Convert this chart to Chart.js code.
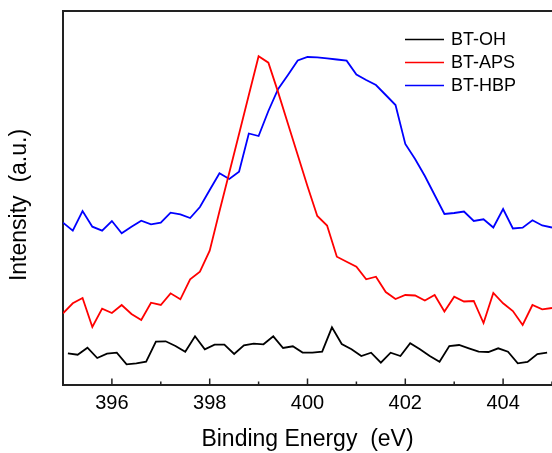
<!DOCTYPE html>
<html lang="en">
<head>
  <meta charset="UTF-8">
  <title>N1s XPS</title>
  <script src="https://cdn.jsdelivr.net/npm/chart.js"></script>
  <style>
    html, body {
      margin: 0;
      padding: 0;
      background: #ffffff;
      overflow: hidden;
    }
    canvas {
      display: block;
    }
  </style>
</head>
<body>
  <canvas id="xpsChart" width="552" height="453"></canvas>

  <script>
    // binding energy (eV) for BT-APS and BT-HBP, 0.2 eV steps
    const energy = [
      395.0, 395.2, 395.4, 395.6, 395.8, 396.0, 396.2, 396.4, 396.6, 396.8,
      397.0, 397.2, 397.4, 397.6, 397.8, 398.0, 398.2, 398.4, 398.6, 398.8,
      399.0, 399.2, 399.4, 399.6, 399.8, 400.0, 400.2, 400.4, 400.6, 400.8,
      401.0, 401.2, 401.4, 401.6, 401.8, 402.0, 402.2, 402.4, 402.6, 402.8,
      403.0, 403.2, 403.4, 403.6, 403.8, 404.0, 404.2, 404.4, 404.6, 404.8,
      405.0
    ];
    // BT-OH was sampled on the odd tenths
    const energyOH = [
      395.1, 395.3, 395.5, 395.7, 395.9, 396.1, 396.3, 396.5, 396.7, 396.9,
      397.1, 397.3, 397.5, 397.7, 397.9, 398.1, 398.3, 398.5, 398.7, 398.9,
      399.1, 399.3, 399.5, 399.7, 399.9, 400.1, 400.3, 400.5, 400.7, 400.9,
      401.1, 401.3, 401.5, 401.7, 401.9, 402.1, 402.3, 402.5, 402.7, 402.9,
      403.1, 403.3, 403.5, 403.7, 403.9, 404.1, 404.3, 404.5, 404.7, 404.9
    ];

    // intensities, arbitrary units (offset curves)
    const btOH = [
      31.6, 30.3, 37.3, 27.0, 31.3, 32.3, 20.7, 21.7, 23.3, 43.3,
      43.7, 39.0, 33.3, 48.7, 35.7, 40.3, 40.3, 31.0, 39.7, 41.3,
      40.7, 48.7, 37.0, 38.7, 32.5, 32.3, 33.3, 57.7, 41.0, 35.7,
      29.0, 32.3, 22.3, 32.3, 29.0, 41.7, 35.7, 29.0, 23.3, 39.0,
      40.0, 36.7, 33.3, 33.0, 36.7, 33.3, 21.7, 23.0, 31.0, 32.3
    ];
    const btAPS = [
      71.7, 81.7, 87.0, 58.0, 76.3, 72.0, 80.0, 71.0, 65.0, 82.3,
      80.0, 91.7, 85.7, 105.7, 113.3, 134.3, 173.7, 212.3, 251.0, 290.0,
      328.7, 322.3, 292.6, 261.3, 230.0, 198.7, 169.0, 159.5, 128.3, 123.3,
      118.3, 105.7, 108.3, 93.0, 86.0, 90.0, 89.5, 84.5, 90.0, 73.5,
      88.3, 83.5, 84.0, 62.0, 92.0, 81.7, 74.0, 60.0, 80.0, 75.7,
      77.0
    ];
    const btHBP = [
      162.3, 154.3, 174.0, 158.3, 154.3, 164.0, 151.7, 158.3, 164.3, 160.7,
      162.3, 172.3, 170.7, 167.0, 178.0, 195.0, 211.7, 206.0, 213.3, 251.5,
      249.0, 274.0, 296.0, 310.0, 324.5, 328.0, 327.7, 326.7, 325.5, 324.3,
      310.5, 305.0, 300.0, 290.0, 280.0, 241.0, 226.0, 209.0, 190.0, 171.0,
      172.0, 173.5, 164.0, 165.7, 157.5, 176.0, 156.5, 157.3, 164.7, 159.5,
      157.5
    ];

    const seriesNames = ['BT-OH', 'BT-APS', 'BT-HBP'];
    const seriesColors = ['#000000', '#ff0000', '#0000ff'];
    const xTickLabels = [396, 398, 400, 402, 404];
    const yTitle = 'Intensity  (a.u.)';

    const FONT = "'Liberation Sans', Arial, sans-serif";
    Chart.defaults.font.family = FONT;
    Chart.defaults.color = '#000000';

    function toPoints(xs, ys) {
      return ys.map((y, i) => ({ x: xs[i], y: y }));
    }

    // top frame line, inward x ticks, y title and a legend inside the plot
    const framePlugin = {
      id: 'frame',
      afterDraw(chart) {
        const ctx = chart.ctx;
        const area = chart.chartArea;
        const xs = chart.scales.x;

        ctx.save();
        ctx.strokeStyle = '#222222';
        ctx.lineWidth = 2;
        ctx.beginPath();
        ctx.moveTo(area.left - 1, area.top);
        ctx.lineTo(area.right + 1, area.top);
        ctx.stroke();

        ctx.lineWidth = 1.5;
        xs.ticks.forEach(t => {
          const px = xs.getPixelForValue(t.value);
          const len = xTickLabels.includes(t.value) ? 6.5 : 3.5;
          ctx.beginPath();
          ctx.moveTo(px, area.bottom);
          ctx.lineTo(px, area.bottom - len);
          ctx.stroke();
        });

        // y title, sits a bit below the plot's middle like the original
        ctx.save();
        ctx.translate(20, (area.top + area.bottom) / 2 + 7);
        ctx.rotate(-Math.PI / 2);
        ctx.font = '23px ' + FONT;
        ctx.textAlign = 'center';
        ctx.textBaseline = 'middle';
        ctx.fillStyle = '#000000';
        ctx.fillText(yTitle, 0, 0);
        ctx.restore();

        // legend
        ctx.font = '18px ' + FONT;
        ctx.textBaseline = 'middle';
        ctx.textAlign = 'left';
        const lx = area.right - 147;
        chart.data.datasets.forEach((ds, i) => {
          const ly = area.top + 28.5 + i * 23;
          ctx.strokeStyle = ds.borderColor;
          ctx.lineWidth = 1.6;
          ctx.beginPath();
          ctx.moveTo(lx, ly);
          ctx.lineTo(lx + 39, ly);
          ctx.stroke();
          ctx.fillStyle = '#000000';
          ctx.fillText(ds.label, lx + 46, ly + 1);
        });
        ctx.restore();
      }
    };

    const xSets = [energyOH, energy, energy];
    const datasets = [btOH, btAPS, btHBP].map((ys, i) => ({
      label: seriesNames[i],
      data: toPoints(xSets[i], ys),
      borderColor: seriesColors[i],
      borderWidth: 1.8,
      pointRadius: 0,
      tension: 0,
      fill: false
    }));

    new Chart(document.getElementById('xpsChart'), {
      type: 'line',
      data: { datasets: datasets },
      plugins: [framePlugin],
      options: {
        responsive: false,
        animation: false,
        devicePixelRatio: 1,
        layout: { padding: { top: 11, right: 0, left: 0, bottom: 0 } },
        plugins: {
          legend: { display: false },
          tooltip: { enabled: false }
        },
        scales: {
          x: {
            type: 'linear',
            min: 395,
            max: 405,
            afterFit: s => {
              s.height = 68;
              s.paddingLeft = 0;
              s.paddingRight = 0;
            },
            afterBuildTicks: s => {
              s.ticks = energy.filter(v => Number.isInteger(v)).map(v => ({ value: v }));
            },
            ticks: {
              autoSkip: false,
              maxRotation: 0,
              padding: -2,
              font: { size: 20 },
              color: '#000000',
              callback: v => xTickLabels.includes(v) ? String(v) : ''
            },
            grid: { display: false },
            border: { display: true, color: '#222222', width: 2 },
            title: {
              display: true,
              text: 'Binding Energy  (eV)',
              font: { size: 23 },
              color: '#000000',
              padding: { top: 0, bottom: 0 }
            }
          },
          y: {
            min: 0,
            max: 374,
            afterFit: s => { s.width = 63; },
            ticks: { display: false },
            grid: { display: false },
            border: { display: true, color: '#222222', width: 2 },
            title: { display: false }
          }
        }
      }
    });
  </script>
</body>
</html>
